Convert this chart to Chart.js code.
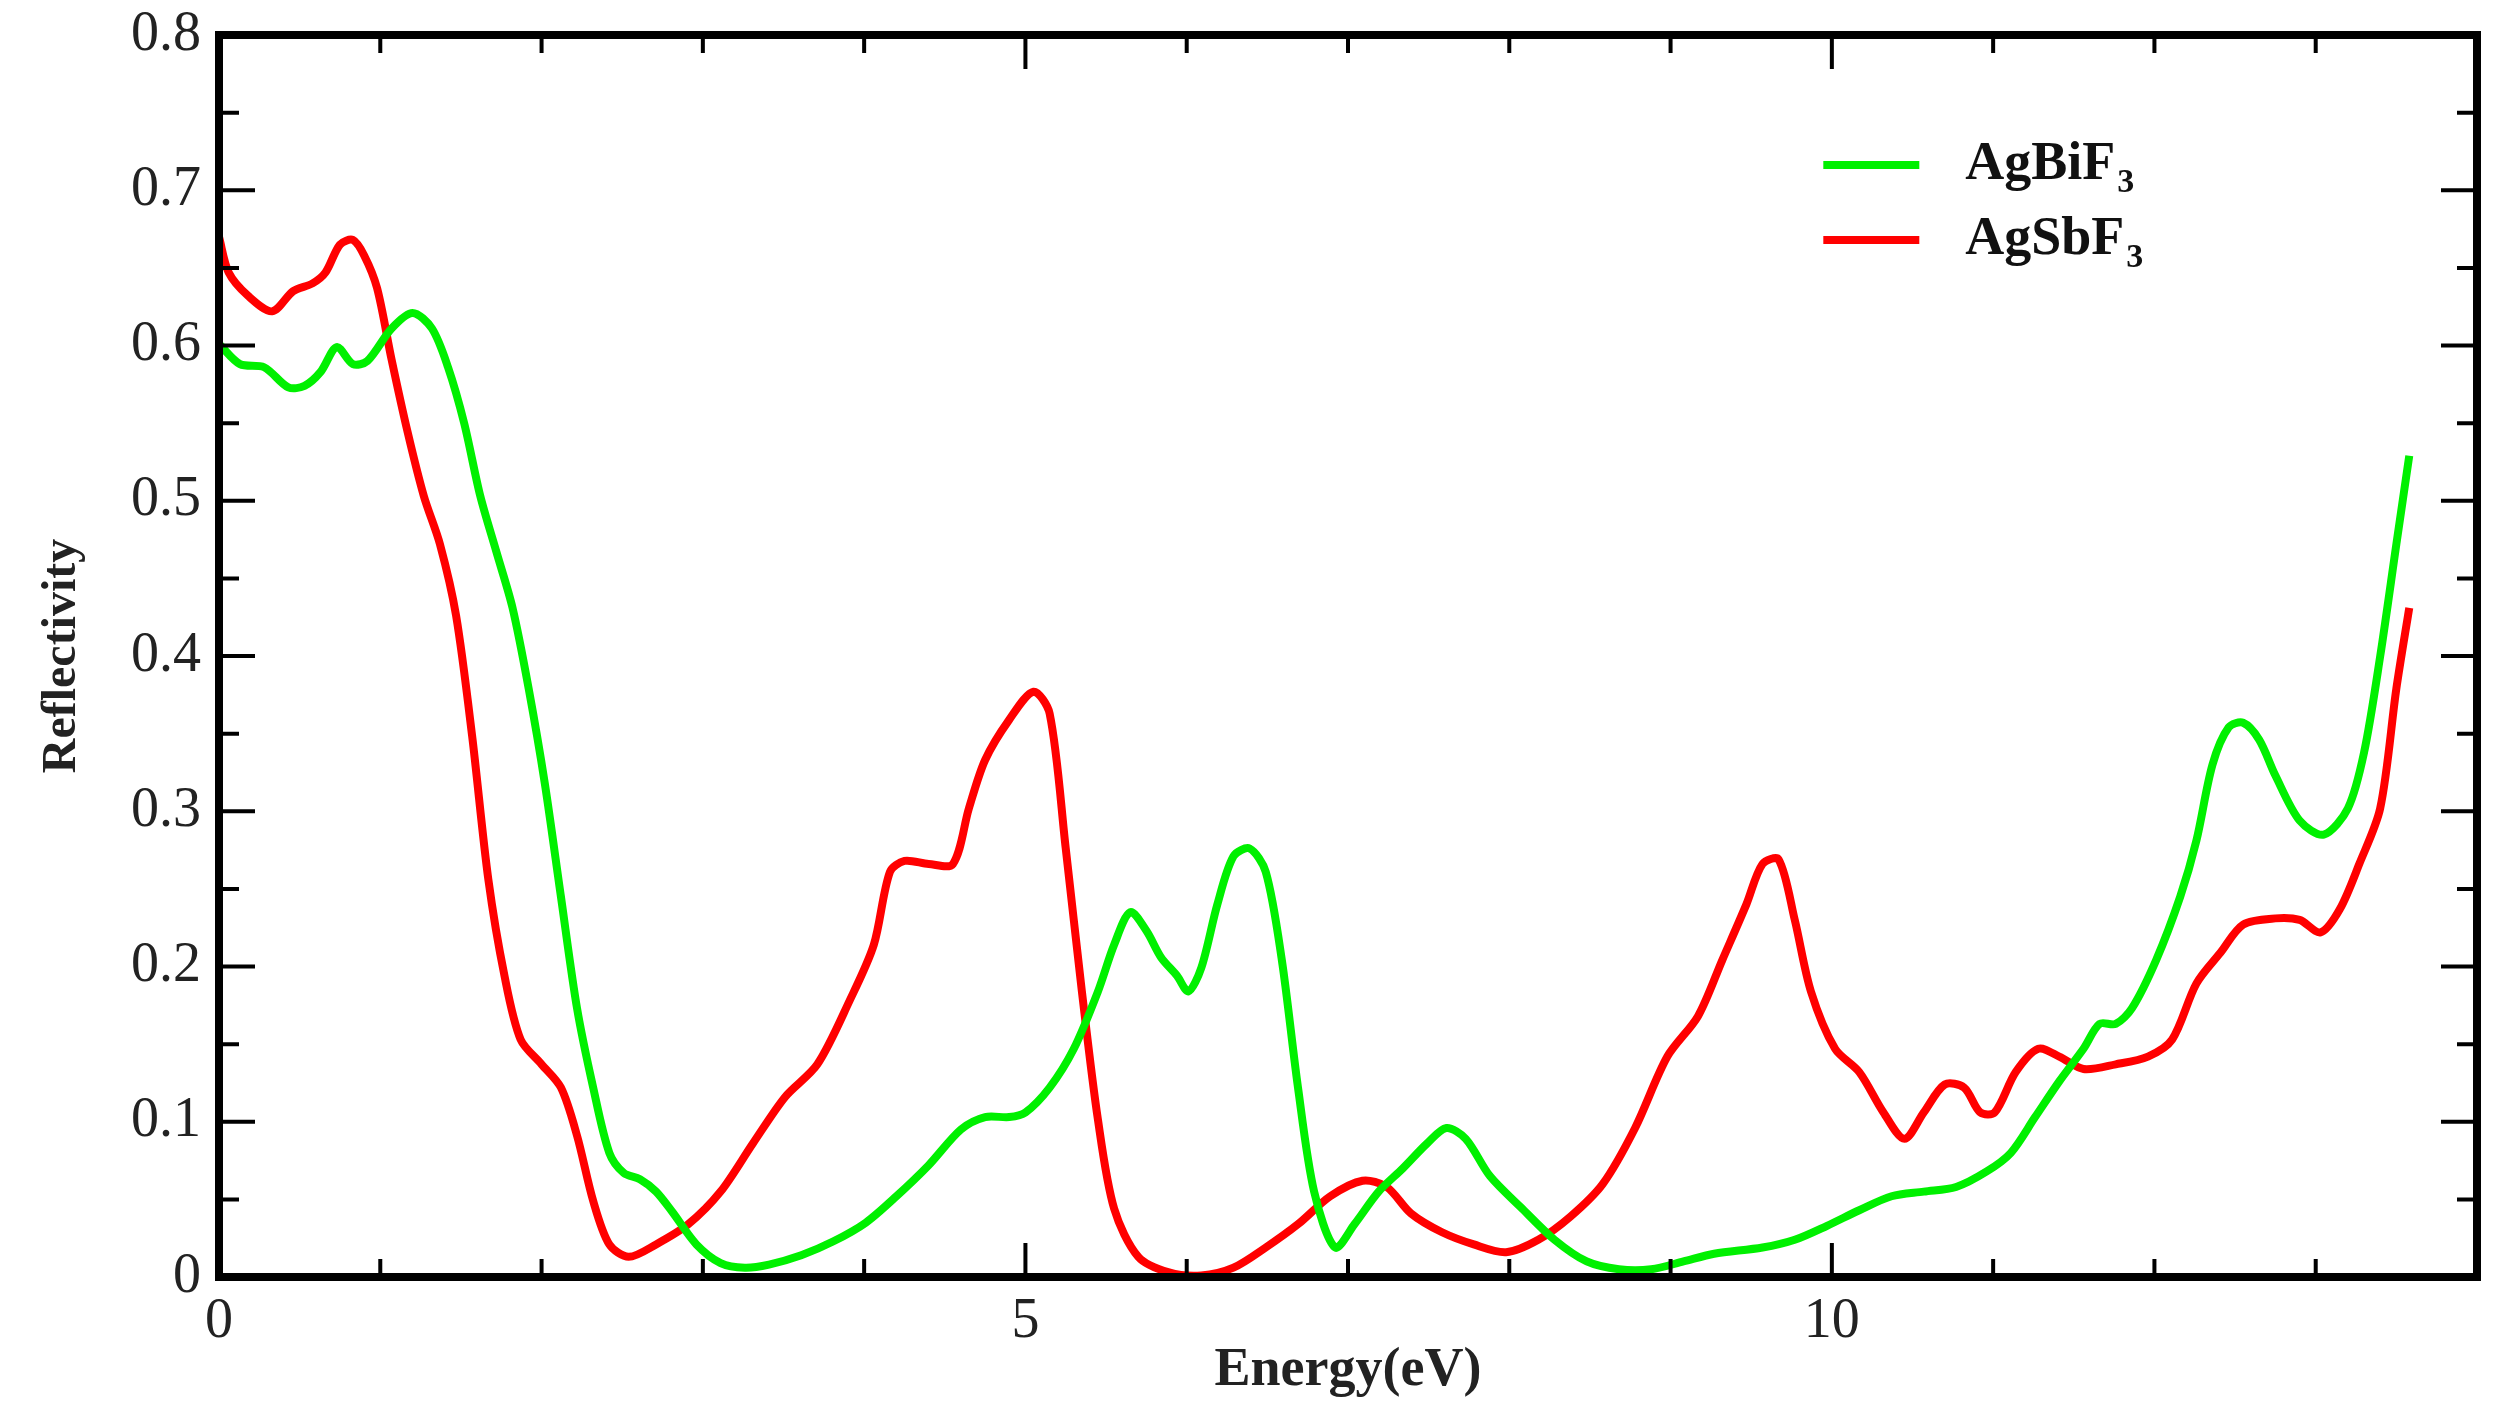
<!DOCTYPE html>
<html>
<head>
<meta charset="utf-8">
<script src="https://cdn.jsdelivr.net/npm/chart.js@4"></script>
<style>
html,body{margin:0;padding:0;background:#fff;}
#wrap{width:2509px;height:1423px;position:relative;}
</style>
</head>
<body>
<div id="wrap"><canvas id="c"></canvas></div>
<script>
// ---- data ----
const seriesNames = ['AgBiF3', 'AgSbF3'];
const seriesColors = ['#00f000', '#ff0000'];

const bifX = [0,0.13,0.28,0.43,0.53,0.63,0.73,0.83,0.92,1.07,1.2,1.32,1.42,1.52,1.62,1.72,1.82,1.92,2.02,2.12,2.22,2.32,2.42,2.51,2.61,2.71,2.81,2.96,3.11,3.26,3.41,3.61,3.81,4.01,4.2,4.4,4.6,4.75,4.9,5.0,5.15,5.3,5.45,5.55,5.65,5.75,5.84,5.94,6.01,6.09,6.19,6.29,6.39,6.49,6.59,6.69,6.79,6.92,7.04,7.19,7.34,7.49,7.61,7.73,7.88,8.08,8.28,8.48,8.68,8.88,9.08,9.27,9.57,9.77,9.97,10.17,10.37,10.57,10.77,10.96,11.11,11.26,11.41,11.56,11.66,11.76,11.86,12.01,12.16,12.26,12.36,12.46,12.55,12.65,12.75,12.9,13.05,13.2,13.3,13.4,13.5,13.58];
const bifY = [0.601,0.588,0.586,0.573,0.574,0.583,0.599,0.588,0.59,0.611,0.621,0.611,0.586,0.55,0.503,0.467,0.431,0.379,0.318,0.245,0.173,0.122,0.08,0.067,0.063,0.055,0.042,0.021,0.009,0.006,0.008,0.014,0.023,0.035,0.052,0.072,0.095,0.103,0.103,0.106,0.122,0.147,0.184,0.214,0.235,0.223,0.206,0.194,0.184,0.199,0.24,0.271,0.276,0.261,0.204,0.122,0.055,0.019,0.034,0.055,0.07,0.086,0.096,0.089,0.065,0.044,0.024,0.01,0.005,0.005,0.01,0.015,0.019,0.024,0.033,0.043,0.052,0.055,0.058,0.068,0.08,0.103,0.126,0.147,0.163,0.163,0.173,0.204,0.245,0.281,0.33,0.354,0.357,0.346,0.323,0.294,0.285,0.302,0.338,0.4,0.472,0.529];

const sbfX = [0,0.06,0.18,0.33,0.46,0.58,0.66,0.75,0.83,0.9,0.98,1.07,1.17,1.27,1.37,1.47,1.57,1.67,1.77,1.87,2.0,2.12,2.22,2.32,2.42,2.54,2.71,2.91,3.11,3.31,3.51,3.71,3.91,4.06,4.16,4.25,4.4,4.55,4.65,4.75,4.9,5.05,5.15,5.25,5.35,5.45,5.55,5.7,5.89,6.09,6.29,6.49,6.69,6.89,7.09,7.24,7.39,7.58,7.78,7.98,8.18,8.38,8.58,8.78,8.98,9.17,9.32,9.47,9.57,9.67,9.77,9.87,10.02,10.17,10.32,10.45,10.57,10.7,10.82,10.92,11.01,11.14,11.28,11.41,11.56,11.76,11.96,12.11,12.26,12.41,12.55,12.75,12.9,13.03,13.15,13.27,13.4,13.5,13.58];
const sbfY = [0.67,0.647,0.632,0.622,0.635,0.64,0.647,0.665,0.668,0.658,0.637,0.591,0.544,0.503,0.472,0.426,0.348,0.256,0.194,0.153,0.137,0.122,0.091,0.049,0.021,0.013,0.021,0.034,0.055,0.086,0.116,0.137,0.178,0.214,0.261,0.268,0.266,0.266,0.302,0.333,0.359,0.377,0.363,0.276,0.184,0.101,0.044,0.013,0.003,0.001,0.006,0.019,0.034,0.052,0.062,0.058,0.041,0.029,0.021,0.016,0.024,0.039,0.06,0.096,0.142,0.168,0.204,0.24,0.266,0.269,0.23,0.184,0.147,0.132,0.106,0.089,0.106,0.124,0.122,0.106,0.106,0.132,0.147,0.142,0.134,0.137,0.142,0.153,0.189,0.209,0.227,0.231,0.23,0.222,0.237,0.266,0.302,0.379,0.431];

const xMin = 0, xMax = 14, xLabeled = [0, 5, 10];
const yMin = 0, yMax = 0.8;
const yTickLabels = ['0','0.1','0.2','0.3','0.4','0.5','0.6','0.7','0.8'];
const xTitle = 'Energy(eV)';
const yTitle = 'Reflectivity';

// ---- helpers ----
const toPts = (xs, ys) => xs.map((x, i) => ({x, y: ys[i]}));

const framePlugin = {
  id: 'frameTicks',
  afterDraw(chart) {
    const {ctx, chartArea: a, scales: {x, y}} = chart;
    ctx.save();
    ctx.strokeStyle = '#000';
    ctx.lineWidth = 4;
    ctx.lineCap = 'butt';
    for (let v = xMin; v <= xMax; v += 1) {
      const px = x.getPixelForValue(v);
      const L = (v % 5 === 0) ? 34 : 18;
      ctx.beginPath();
      ctx.moveTo(px, a.bottom); ctx.lineTo(px, a.bottom - L);
      ctx.moveTo(px, a.top); ctx.lineTo(px, a.top + L);
      ctx.stroke();
    }
    for (let i = 0; i <= 16; i++) {
      const py = y.getPixelForValue(i * 0.05);
      const L = (i % 2 === 0) ? 36 : 20;
      ctx.beginPath();
      ctx.moveTo(a.left, py); ctx.lineTo(a.left + L, py);
      ctx.moveTo(a.right, py); ctx.lineTo(a.right - L, py);
      ctx.stroke();
    }
    ctx.lineWidth = 8;
    ctx.strokeRect(a.left, a.top, a.right - a.left, a.bottom - a.top);

    // legend
    const lx0 = a.left + (a.right - a.left) * 0.7105;
    const lx1 = lx0 + 96;
    const ly0 = a.top + (a.bottom - a.top) * 0.1047;
    const dy = 75;
    chart.data.datasets.forEach((ds, i) => {
      const ly = ly0 + i * dy;
      ctx.strokeStyle = ds.borderColor;
      ctx.lineWidth = 8;
      ctx.beginPath(); ctx.moveTo(lx0, ly); ctx.lineTo(lx1, ly); ctx.stroke();
      const name = ds.label;
      const base = name.replace(/\d+$/, '');
      const sub = name.slice(base.length);
      ctx.fillStyle = '#111';
      ctx.textBaseline = 'middle';
      ctx.textAlign = 'left';
      ctx.font = 'bold 54px "Liberation Serif"';
      const tx = lx1 + 46;
      ctx.fillText(base, tx, ly);
      const w = ctx.measureText(base).width;
      ctx.font = 'bold 34px "Liberation Serif"';
      ctx.fillText(sub, tx + w + 2, ly + 18);
    });
    ctx.restore();
  }
};

new Chart(document.getElementById('c'), {
  type: 'line',
  data: {
    datasets: [
      {label: seriesNames[0], data: toPts(bifX, bifY), borderColor: seriesColors[0], borderWidth: 8, pointRadius: 0, tension: 0.3, fill: false},
      {label: seriesNames[1], data: toPts(sbfX, sbfY), borderColor: seriesColors[1], borderWidth: 8, pointRadius: 0, tension: 0.3, fill: false}
    ]
  },
  options: {
    responsive: true,
    maintainAspectRatio: false,
    devicePixelRatio: 1,
    animation: false,
    layout: {padding: {top: 35, right: 32, left: 0, bottom: 0}},
    plugins: {legend: {display: false}, tooltip: {enabled: false}},
    scales: {
      x: {
        type: 'linear', min: xMin, max: xMax,
        grid: {display: false, drawTicks: false},
        border: {display: false},
        afterFit: s => { s.height = 146; s.paddingLeft = 0; s.paddingRight = 0; },
        ticks: {
          stepSize: 1, autoSkip: false, maxRotation: 0, padding: 12,
          color: '#222', font: {family: '"Liberation Serif"', size: 56},
          callback: v => xLabeled.includes(v) ? String(v) : ''
        },
        title: {display: true, text: xTitle, color: '#222',
          font: {family: '"Liberation Serif"', size: 54, weight: 'bold'},
          padding: {top: 0, bottom: 20}}
      },
      y: {
        type: 'linear', min: yMin, max: yMax,
        grid: {display: false, drawTicks: false},
        border: {display: false},
        afterFit: s => { s.width = 219; s.paddingTop = 0; s.paddingBottom = 0; },
        ticks: {
          stepSize: 0.1, autoSkip: false, padding: 18,
          color: '#222', font: {family: '"Liberation Serif"', size: 56},
          callback: (v, i) => yTickLabels[i]
        },
        title: {display: true, text: yTitle, color: '#222',
          font: {family: '"Liberation Serif"', size: 48, weight: 'bold'},
          padding: {top: 34, bottom: 0}}
      }
    }
  },
  plugins: [framePlugin]
});
</script>
</body>
</html>
